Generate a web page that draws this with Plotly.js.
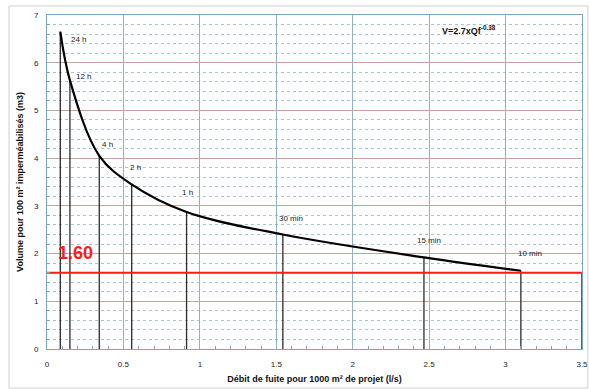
<!DOCTYPE html>
<html><head><meta charset="utf-8">
<script src="https://cdn.plot.ly/plotly-3.0.1.min.js"></script>
<style>html,body{margin:0;padding:0;background:#fff}#chart{width:589px;height:389px}</style>
</head><body><div id="chart"></div>
<script>
// Data
const durations = ['24 h', '12 h', '4 h', '2 h', '1 h', '30 min', '15 min', '10 min'];
const debit = [0.087, 0.150, 0.342, 0.554, 0.913, 1.543, 2.466, 3.10];   // l/s pour 1000 m²
const volume = [6.65, 5.63, 4.05, 3.45, 2.87, 2.40, 1.92, 1.64];          // m3 pour 100 m²
const seuil = 1.60;
const debitMax = 3.5;
const formulaText = 'V=2.7xQf<sup>-0.38</sup>';
const seuilText = '1.60';
const xTitle = 'Débit de fuite pour 1000 m² de projet (l/s)';
const yTitle = 'Volume pour 100 m² imperméabilisés (m3)';

// label placement (pixels) relative to each point: [dx to left edge, dy upward]
const labelOffsets = [[9,-8],[4,4],[1,11],[-4,17],[-7,20],[-6,16],[-9,17],[-5,17]];

const font = 'Liberation Sans, Arial, sans-serif';

const dropX = [], dropY = [];
debit.forEach((x, i) => { dropX.push(x, x, null); dropY.push(0, volume[i], null); });

const traces = [
  {x: dropX, y: dropY, mode: 'lines', line: {color: '#2a2a2a', width: 1.3}, hoverinfo: 'skip', showlegend: false},
  {x: debit, y: volume, mode: 'lines', line: {color: '#000', width: 2.2, shape: 'spline', smoothing: 1}, showlegend: false},
  {x: [0, debitMax, debitMax], y: [seuil, seuil, 0], mode: 'lines', line: {color: '#ff1a1a', width: 2}, showlegend: false}
];

const annotations = durations.map((t, i) => ({
  x: debit[i], y: volume[i], xref: 'x', yref: 'y', text: t, showarrow: false,
  xanchor: 'left', yanchor: 'middle', xshift: labelOffsets[i][0], yshift: labelOffsets[i][1],
  font: {family: font, size: 8, color: '#222'}
}));
annotations.push({x: 0, y: seuil, xref: 'x', yref: 'y', text: '<b>' + seuilText + '</b>', showarrow: false,
  xanchor: 'left', yanchor: 'middle', xshift: 9, yshift: 20, font: {family: font, size: 18, color: '#ff1a1a'}});
annotations.push({x: 2.573, y: 6.68, xref: 'x', yref: 'y', text: '<b>' + formulaText + '</b>', showarrow: false,
  xanchor: 'left', yanchor: 'middle', font: {family: font, size: 9, color: '#111'}});

const layout = {
  width: 589, height: 389,
  margin: {l: 47, r: 7, t: 15, b: 40},
  paper_bgcolor: '#fff', plot_bgcolor: '#fff',
  font: {family: font, size: 8, color: '#222'},
  showlegend: false,
  xaxis: {
    range: [0, 3.5], tick0: 0, dtick: 0.5, showgrid: true, gridcolor: '#8fb3c2', gridwidth: 1,
    zeroline: false, showline: true, linecolor: '#7aa7ba', linewidth: 1, mirror: true,
    ticks: '', ticklabelstandoff: 7, tickfont: {family: font, size: 8, color: '#222'},
    minor: {dtick: 0.1, ticks: 'inside', ticklen: 3, tickcolor: '#7aa7ba', showgrid: false},
    title: {text: '<b>' + xTitle + '</b>', font: {family: font, size: 9, color: '#111'}, standoff: 8},
    automargin: false, fixedrange: true
  },
  yaxis: {
    range: [0, 7], tick0: 0, dtick: 1, showgrid: true, gridcolor: '#c4a49c', gridwidth: 1,
    zeroline: false, showline: true, linecolor: '#7aa7ba', linewidth: 1, mirror: true,
    ticks: '', ticklabelstandoff: 6, tickfont: {family: font, size: 8, color: '#222'},
    minor: {dtick: 0.2, ticks: 'inside', ticklen: 3, tickcolor: '#7aa7ba', showgrid: true, gridcolor: '#9cc6da', griddash: 'dot', gridwidth: 1},
    title: {text: '<b>' + yTitle + '</b>', font: {family: font, size: 9, color: '#111'}, standoff: 8},
    automargin: false, fixedrange: true
  },
  annotations: annotations,
  shapes: [
    {type: 'rect', xref: 'paper', yref: 'paper', x0: -0.071, x1: 1.011, y0: -0.117, y1: 1.027,
     line: {color: '#d0d0d0', width: 1}, fillcolor: 'rgba(0,0,0,0)', layer: 'below'}
  ]
};

Plotly.newPlot('chart', traces, layout, {displayModeBar: false, staticPlot: true});
</script>
</body></html>
